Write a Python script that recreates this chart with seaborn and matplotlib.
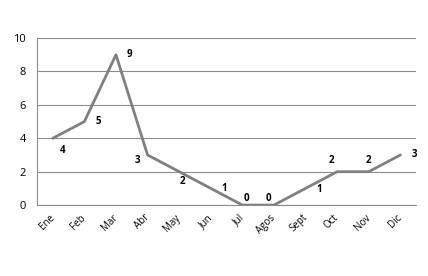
import matplotlib
matplotlib.use("Agg")
import matplotlib.pyplot as plt
import seaborn as sns
import pandas as pd

months = ["Ene", "Feb", "Mar", "Abr", "May", "Jun", "Jul", "Agos", "Sept", "Oct", "Nov", "Dic"]
values = [4, 5, 9, 3, 2, 1, 0, 0, 1, 2, 2, 3]
# label offsets in points (dx, dy) relative to each point
label_offsets = [(7, -9), (10, 0), (10, 0), (-7, -4), (2, -7), (10, 0),
                 (3, 5), (-4, 5), (10, -1), (-4, 8), (0, 8), (10, 0)]

sns.set_style("white")
plt.rcParams["font.family"] = ["Open Sans", "DejaVu Sans"]

df = pd.DataFrame({"month": months, "value": values})

fig = plt.figure(figsize=(4.28, 2.76), dpi=100)
ax = fig.add_axes([0.0864, 0.257, 0.886, 0.605])

ax.yaxis.grid(True, color="#8c8c8c", linewidth=0.8)
ax.set_axisbelow(True)

sns.lineplot(data=df, x="month", y="value", ax=ax, color="#808080", linewidth=2.0,
             sort=False)

for i, (v, (dx, dy)) in enumerate(zip(values, label_offsets)):
    ax.annotate(str(v), (i, v), xytext=(dx, dy), textcoords="offset points",
                ha="center", va="center", fontsize=7, fontweight="bold", color="black")

ax.set_xlim(-0.5, len(months) - 0.5)
ax.set_ylim(0, 10)
ax.set_yticks([0, 2, 4, 6, 8, 10])
ax.set_xticks(range(len(months)))
ax.set_xticklabels(months, rotation=45, ha="right", va="center", rotation_mode="anchor",
                   fontsize=7, color="black")
ax.tick_params(axis="x", length=0, pad=8, labelcolor="black")
# minor ticks at boundaries
ax.set_xticks([i - 0.5 for i in range(len(months) + 1)], minor=True)
ax.tick_params(axis="x", which="minor", length=4, color="#8c8c8c", width=0.8, direction="out")
ax.tick_params(axis="y", length=4, color="#8c8c8c", width=0.8, labelsize=8, pad=4,
               direction="out", labelcolor="black")
ax.set_xlabel("")
ax.set_ylabel("")

for s in ["top", "right"]:
    ax.spines[s].set_visible(False)
for s in ["left", "bottom"]:
    ax.spines[s].set_color("#8c8c8c")
    ax.spines[s].set_linewidth(0.8)

fig.savefig("out.png", dpi=100)
